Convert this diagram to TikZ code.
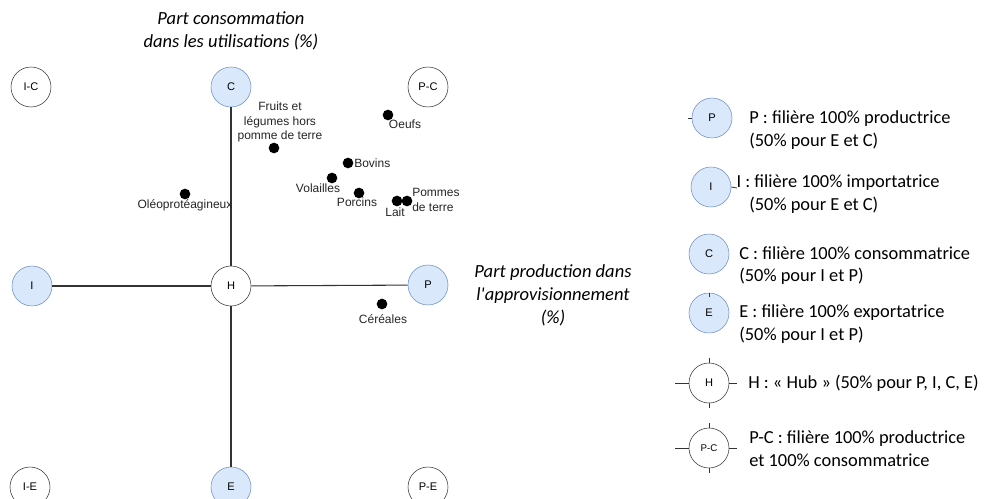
\documentclass[tikz,border=0pt]{standalone}
\usepackage{fontspec}
\setmainfont{Liberation Sans}
\newfontfamily\calfont{Carlito}
\definecolor{bluefill}{HTML}{DAE8FC}
\definecolor{bluedraw}{HTML}{6C8EBF}
\definecolor{linegray}{HTML}{333333}
\begin{document}
\begin{tikzpicture}[x=0.75pt,y=-0.75pt,
  bluecirc/.style={circle, draw=bluedraw, fill=bluefill, minimum size=30pt, inner sep=0pt, font=\fontsize{8.3}{9}\selectfont},
  whitecirc/.style={circle, draw=linegray, fill=white, minimum size=30pt, inner sep=0pt, font=\fontsize{8.3}{9}\selectfont},
  axis/.style={draw=linegray, line width=0.8pt},
  tick/.style={draw=linegray, line width=0.6pt},
  dot/.style={circle, fill=black, minimum size=8pt, inner sep=0pt},
  lab/.style={inner sep=0pt, font=\fontsize{9}{11}\selectfont, text=black!85},
  title/.style={inner sep=0pt, align=center, font=\calfont\itshape\fontsize{13.9}{17.25}\selectfont},
  legtext/.style={inner sep=0pt, anchor=west, align=left, font=\calfont\fontsize{13.8}{17}\selectfont}
]
\clip (0,0) rectangle (991,499);
\fill[white] (0,0) rectangle (991,499);

% titles
\node[title] (ttop) at (231,31) {Part consommation\\dans les utilisations (\%)};
\node[title] (tright) at (553,295) {Part production dans\\l'approvisionnement\\(\%)};

% axes
\node[whitecirc] (IC) at (31,87) {I-C};
\node[bluecirc] (C) at (231,87) {C};
\node[whitecirc] (PC) at (428,87) {P-C};
\node[bluecirc] (I) at (32,286) {I};
\node[whitecirc] (H) at (231,286) {H};
\node[bluecirc] (P) at (428,285) {P};
\node[whitecirc] (IE) at (30,487) {I-E};
\node[bluecirc] (E) at (231,487) {E};
\node[whitecirc] (PE) at (428,487) {P-E};

\draw[axis] (C) -- (H);
\draw[axis] (H) -- (E);
\draw[axis] (I) -- (H);
\draw[axis] (H) -- (P);

% data points
\node[dot] (doeufs) at (388,115) {};
\node[lab] (loeufs) at (405,124) {Oeufs};
\node[dot] (dfruits) at (274,148) {};
\node[lab, align=center, font=\fontsize{9}{10.9}\selectfont] (lfruits) at (280,122) {Fruits et\\légumes hors\\pomme de terre};
\node[dot] (dbovins) at (348,163) {};
\node[lab, anchor=west] (lbovins) at (354,163) {Bovins};
\node[dot] (dvol) at (332,178) {};
\node[lab] (lvol) at (318,188) {Volailles};
\node[dot] (dporc) at (359,193) {};
\node[lab] (lporc) at (357,202) {Porcins};
\node[dot] (dlait) at (397,201) {};
\node[lab] (llait) at (395,212) {Lait};
\node[dot] (dpdt) at (407,201) {};
\node[lab, anchor=west, align=left] (lpdt) at (412,200) {Pommes\\de terre};
\node[dot] (doleo) at (185,194) {};
\node[lab] (loleo) at (185,205) {Oléoprotéagineux};
\node[dot] (dcer) at (382,304) {};
\node[lab] (lcer) at (383,319) {Céréales};

% legend
\node[bluecirc] (LP) at (712,118) {P};
\coordinate (LPt) at (688,118);
\draw[tick] (LPt) -- (LP.west);
\node[legtext] (LPtxt) at (749,130) {P : filière 100\% productrice\\(50\% pour E et C)};

\node[bluecirc] (LI) at (711,187) {I};
\coordinate (LIt) at (737,188);
\draw[tick] (LI.east) -- (LIt);
\node[legtext] (LItxt) at (749,194) {\hspace*{-9.5pt}I : filière 100\% importatrice\\(50\% pour E et C)};

\node[bluecirc] (LC) at (709,254) {C};
\node[legtext] (LCtxt) at (739,265.5) {C : filière 100\% consommatrice\\(50\% pour I et P)};

\node[bluecirc] (LE) at (709,313) {E};
\coordinate (LEt) at (709,297);
\draw[tick] (LEt) -- (LE.north);
\node[legtext] (LEtxt) at (739,324) {E : filière 100\% exportatrice\\(50\% pour I et P)};

\node[whitecirc] (LH) at (709,383) {H};
\coordinate (LHl) at (675,383);
\coordinate (LHr) at (737,383);
\coordinate (LHt) at (709,358);
\coordinate (LHb) at (709,408);
\draw[tick] (LHl) -- (LH.west);
\draw[tick] (LH.east) -- (LHr);
\draw[tick] (LHt) -- (LH.north);
\draw[tick] (LH.south) -- (LHb);
\node[legtext] (LHtxt) at (748,383) {H : «~Hub~» (50\% pour P, I, C, E)};

\node[whitecirc, font=\fontsize{7.3}{8}\selectfont] (LPC) at (709,448) {P-C};
\coordinate (LPCl) at (675,448);
\coordinate (LPCr) at (737,448);
\coordinate (LPCt) at (709,423);
\coordinate (LPCb) at (709,473);
\draw[tick] (LPCl) -- (LPC.west);
\draw[tick] (LPC.east) -- (LPCr);
\draw[tick] (LPCt) -- (LPC.north);
\draw[tick] (LPC.south) -- (LPCb);
\node[legtext] (LPCtxt) at (749,449) {P-C : filière 100\% productrice\\et 100\% consommatrice};
\end{tikzpicture}
\end{document}
